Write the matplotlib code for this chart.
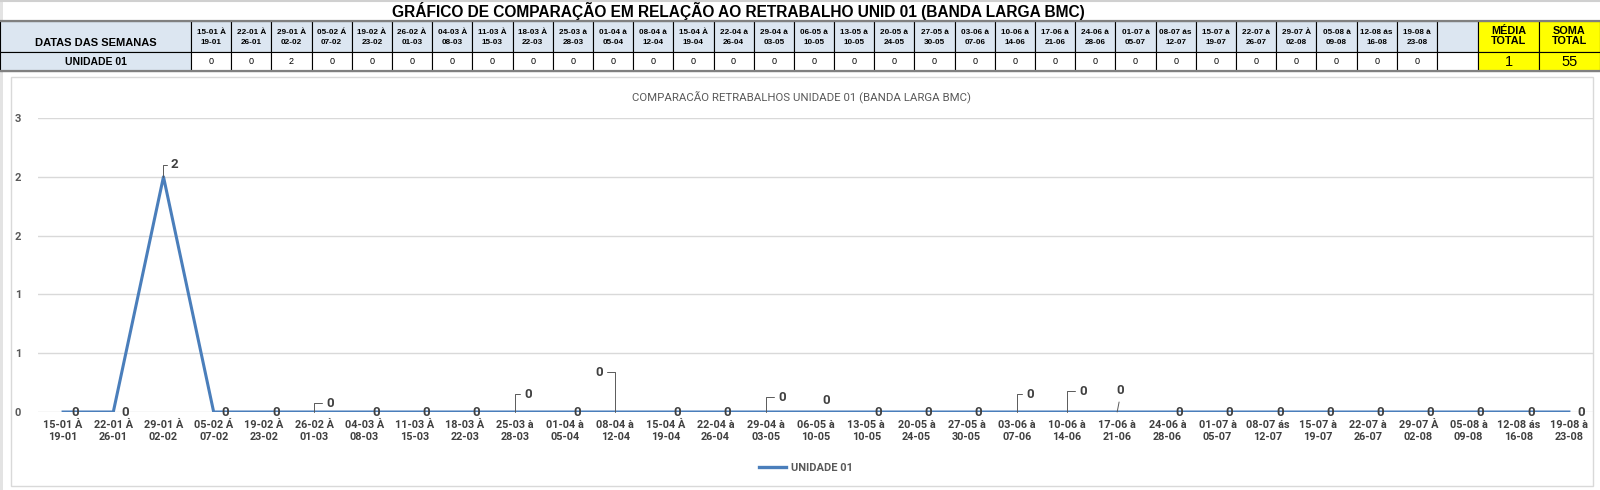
import matplotlib
matplotlib.use("Agg")
import matplotlib.pyplot as plt  # noqa: E402
from matplotlib.patches import Rectangle  # noqa: E402
from matplotlib.lines import Line2D  # noqa: E402

# --- data ---
TITULO_TABELA = "GRÁFICO DE COMPARAÇÃO EM RELAÇÃO AO RETRABALHO UNID 01 (BANDA LARGA BMC)"
TITULO_GRAFICO = "COMPARACÃO RETRABALHOS UNIDADE 01 (BANDA LARGA BMC)"
SERIE = "UNIDADE 01"
semanas = [
    "15-01 À\n19-01", "22-01 À\n26-01", "29-01 À\n02-02", "05-02 Á\n07-02",
    "19-02 À\n23-02", "26-02 À\n01-03", "04-03 À\n08-03", "11-03 À\n15-03",
    "18-03 À\n22-03", "25-03 à\n28-03", "01-04 à\n05-04", "08-04 à\n12-04",
    "15-04 À\n19-04", "22-04 à\n26-04", "29-04 à\n03-05", "06-05 à\n10-05",
    "13-05 à\n10-05", "20-05 à\n24-05", "27-05 à\n30-05", "03-06 à\n07-06",
    "10-06 à\n14-06", "17-06 à\n21-06", "24-06 à\n28-06", "01-07 à\n05-07",
    "08-07 ás\n12-07", "15-07 à\n19-07", "22-07 à\n26-07", "29-07 À\n02-08",
    "05-08 à\n09-08", "12-08 ás\n16-08", "19-08 à\n23-08",
]
unidade01 = [0, 0, 2.4, 0, 0, 0, 0, 0, 0, 0, 0, 0, 0, 0, 0, 0,
             0, 0, 0, 0, 0, 0, 0, 0, 0, 0, 0, 0, 0, 0, 0]
media_total = 1
soma_total = 55
y_ticks = [0, 0.6, 1.2, 1.8, 2.4, 3.0]

# label placement (pixel offsets from the point, leader style) -- Excel moved these by hand
LABEL_POS = {
    2: (11, 12, "hook"), 5: (16, 9, "hook"), 9: (13, 18, "hook"), 11: (-16, 40, "hookl"),
    14: (16, 15, "hook"), 15: (10, 12, None), 19: (13, 18, "hook"), 20: (16, 21, "hook"),
    21: (3, 22, "straight"),
}

W, H = 1600, 490
BLUE = "#4A7EBB"
HDR = "#DCE6F1"
GRID = "#D9D9D9"
TXT = "#404040"
TFONT = ["Liberation Sans", "DejaVu Sans"]
CFONT = ["Roboto", "Liberation Sans"]

fig = plt.figure(figsize=(W / 100, H / 100), dpi=100)
bg = fig.add_axes([0, 0, 1, 1])
bg.set_xlim(0, W); bg.set_ylim(H, 0); bg.axis("off")

# outer frame of the sheet
bg.add_patch(Rectangle((0, 0), 3, H, color="#E3E3E3", lw=0))
bg.plot([0, W], [1, 1], color="#D0D0D0", lw=1.5)


def cell(x0, x1, y0, y1, face, lw=0.8):
    bg.add_patch(Rectangle((x0, y0), x1 - x0, y1 - y0, facecolor=face,
                           edgecolor="black", lw=lw))


# --- table ---
bg.text(738, 11, TITULO_TABELA, ha="center", va="center", fontsize=11.2,
        fontweight="bold", family=TFONT, color="black")
R0, R1, R2 = 21, 52, 71
C0 = 191
cw = (1437 - C0) / len(semanas)
cell(0, C0, R0, R1, HDR)
cell(0, C0, R1, R2, HDR)
bg.text(C0 / 2, 43, "DATAS DAS SEMANAS", ha="center", va="center", fontsize=8,
        fontweight="bold", family=TFONT)
bg.text(C0 / 2, 62, SERIE, ha="center", va="center", fontsize=7.5,
        fontweight="bold", family=TFONT)
for i, (s, v) in enumerate(zip(semanas, unidade01)):
    x0 = C0 + i * cw
    cell(x0, x0 + cw, R0, R1, HDR)
    cell(x0, x0 + cw, R1, R2, "white")
    top, bot = s.split("\n")
    bg.text(x0 + cw / 2, 32, top, ha="center", va="center", fontsize=5.9,
            fontweight="bold", family=TFONT)
    bg.text(x0 + cw / 2, 43, bot, ha="center", va="center", fontsize=5.9,
            fontweight="bold", family=TFONT)
    bg.text(x0 + cw / 2, 62, f"{v:.0f}", ha="center", va="center", fontsize=6.5,
            family=TFONT)
cell(1437, 1478, R0, R1, HDR)
cell(1437, 1478, R1, R2, "white")
for x0, x1, head, val in [(1478, 1539, "MÉDIA\nTOTAL", media_total),
                          (1539, 1600, "SOMA\nTOTAL", soma_total)]:
    cell(x0, x1, R0, R1, "#FFFF00")
    cell(x0, x1, R1, R2, "#FFFF00")
    bg.text((x0 + x1) / 2, 36, head, ha="center", va="center", fontsize=7.8,
            fontweight="bold", family=TFONT, linespacing=1.05)
    bg.text((x0 + x1) / 2, 62, str(val), ha="center", va="center", fontsize=10.5,
            family=TFONT)
bg.plot([0, W], [R0, R0], color="#808080", lw=1.6)
bg.plot([0, W], [R2, R2], color="#808080", lw=1.6)

# chart frame
bg.add_patch(Rectangle((11, 77), 1582, 409, facecolor="white", edgecolor=GRID, lw=1))
bg.text(801, 97, TITULO_GRAFICO, ha="center", va="center", fontsize=8.2,
        family=CFONT, color="#595959")

# --- chart ---
ax = fig.add_axes([38 / W, 1 - 412 / H, (1594 - 38) / W, (412 - 118) / H])
ax.patch.set_visible(False)
x = list(range(len(semanas)))
ax.plot(x, unidade01, color=BLUE, lw=2.2, zorder=3, label=SERIE)
ax.set_xlim(-0.5, len(semanas) - 0.5)
ax.set_ylim(0, 3)
ax.set_yticks(y_ticks)
ax.set_yticklabels([f"{t:.0f}" for t in y_ticks])
ax.set_xticks(x)
ax.set_xticklabels(semanas)
for s in ax.spines.values():
    s.set_visible(False)
ax.grid(axis="y", color=GRID, lw=1)
ax.set_axisbelow(True)
ax.tick_params(axis="x", length=0, pad=6, labelsize=7.8, labelcolor=TXT)
ax.tick_params(axis="y", length=0, pad=12, labelsize=8, labelcolor="#595959")
for lab in ax.get_xticklabels() + ax.get_yticklabels():
    lab.set_fontweight("bold")
    lab.set_family(CFONT)
for lab in ax.get_xticklabels():
    lab.set_linespacing(1.2)

for i, v in enumerate(unidade01):
    dx, dy, leader = LABEL_POS.get(i, (12, 0, None))
    arrow = None
    if leader == "hook":
        arrow = dict(arrowstyle="-", color="#595959", lw=0.7, shrinkA=1, shrinkB=0,
                     relpos=(0, 0.5), connectionstyle="angle,angleA=0,angleB=90,rad=0")
    elif leader == "hookl":
        arrow = dict(arrowstyle="-", color="#595959", lw=0.7, shrinkA=1, shrinkB=0,
                     relpos=(1, 0.5), connectionstyle="angle,angleA=0,angleB=90,rad=0")
    elif leader == "straight":
        arrow = dict(arrowstyle="-", color="#595959", lw=0.7, shrinkA=2, shrinkB=0,
                     relpos=(0.5, 0))
    ax.annotate(f"{v:.0f}", (i, v), xytext=(dx, dy), textcoords="offset pixels",
                ha="center", va="center", fontsize=9.5, fontweight="bold",
                family=CFONT, color=TXT, arrowprops=arrow, zorder=4,
                annotation_clip=False)

handle = Line2D([], [], color=BLUE, lw=2.4)
leg = fig.legend([handle], [SERIE], loc="center", bbox_to_anchor=(806 / W, 1 - 468 / H),
                 frameon=False, handlelength=2.4, handletextpad=0.4,
                 prop=dict(family=CFONT, size=8, weight="bold"))
for t in leg.get_texts():
    t.set_color("#595959")

fig.savefig("out.png", dpi=100)
